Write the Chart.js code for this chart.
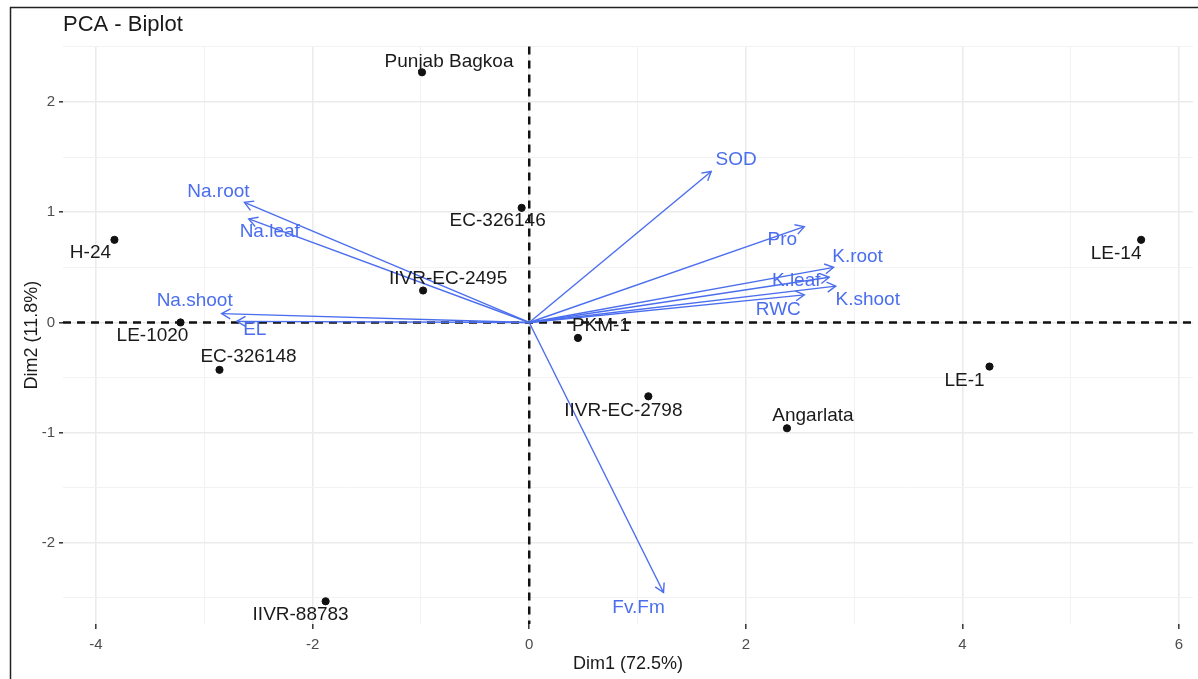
<!DOCTYPE html>
<html>
<head>
<meta charset="utf-8">
<title>PCA - Biplot</title>
<script src="https://cdn.jsdelivr.net/npm/chart.js@4/dist/chart.umd.min.js"></script>
<style>
  html, body { margin: 0; padding: 0; background: #ffffff; }
  #wrap { width: 1198px; height: 679px; position: relative; }
</style>
</head>
<body>
<div id="wrap"><canvas id="biplot" width="1198" height="679"></canvas></div>
<script>
// Individuals (genotypes) and their PCA coordinates
const individuals = ['Punjab Bagkoa', 'EC-326146', 'H-24', 'IIVR-EC-2495', 'LE-1020', 'EC-326148',
                     'PKM-1', 'IIVR-EC-2798', 'Angarlata', 'LE-1', 'LE-14', 'IIVR-88783'];
const indDim1 = [-0.99, -0.07, -3.83, -0.98, -3.22, -2.86, 0.45, 1.10, 2.38, 4.25, 5.65, -1.88];
const indDim2 = [ 2.27,  1.04,  0.75,  0.29,  0.00, -0.43, -0.14, -0.67, -0.96, -0.40, 0.75, -2.53];

// Variables and their loadings (arrow tips)
const variables = ['SOD', 'Pro', 'K.root', 'K.leaf', 'K.shoot', 'RWC',
                   'Na.root', 'Na.leaf', 'Na.shoot', 'EL', 'Fv.Fm'];
const varDim1 = [1.68, 2.54, 2.81, 2.77, 2.83, 2.54, -2.63, -2.59, -2.84, -2.70, 1.24];
const varDim2 = [1.37, 0.87, 0.50, 0.41, 0.33, 0.25,  1.09,  0.94,  0.08,  0.01, -2.45];

// Axis tick labels
const xTickLabels = [-4, -2, 0, 2, 4, 6];
const yTickLabels = [-2, -1, 0, 1, 2];

// Label placement (pixel offsets from the mark, keeps text clear of points/arrows)
const indLabelOffset = [[27, -11], [-24, 13], [-24, 13], [25, -12], [-28, 13], [29, -13],
                        [23, -12], [-25, 14], [26, -13], [-25, 14], [-25, 14], [-25, 13]];
const varLabelOffset = [[25, -12], [-22, 13], [24, -11], [-33, 3], [32, 14], [-26, 15],
                        [-26, -11], [21, 13], [-27, -13], [18, 8], [-25, 15]];

const FONT = '"Liberation Sans", Arial, Helvetica, sans-serif';
const VAR_COLOR = '#4b6eee';
const TEXT_COLOR = '#1a1a1a';

const indPoints = individuals.map((n, i) => ({ x: indDim1[i], y: indDim2[i] }));
const arrowSets = variables.map((n, i) => ({
  type: 'line',
  label: n,
  data: [{ x: 0, y: 0 }, { x: varDim1[i], y: varDim2[i] }],
  borderColor: VAR_COLOR,
  borderWidth: 1.4,
  pointRadius: 0,
  fill: false,
  tension: 0,
  order: 2
}));

const biplotDecor = {
  id: 'biplotDecor',
  beforeDraw(chart) {
    const ctx = chart.ctx;
    ctx.save();
    ctx.fillStyle = '#ffffff';
    ctx.fillRect(0, 0, chart.width, chart.height);
    // figure frame
    ctx.strokeStyle = '#222';
    ctx.lineWidth = 1.5;
    ctx.beginPath();
    ctx.moveTo(10.5, chart.height);
    ctx.lineTo(10.5, 7.5);
    ctx.lineTo(chart.width, 7.5);
    ctx.stroke();
    ctx.restore();
  },
  beforeDatasetsDraw(chart) {
    const { ctx, chartArea: a, scales: { x, y } } = chart;
    ctx.save();
    ctx.strokeStyle = '#111';
    ctx.lineWidth = 2.5;
    ctx.setLineDash([8, 6]);
    const y0 = y.getPixelForValue(0);
    const x0 = x.getPixelForValue(0);
    ctx.beginPath();
    ctx.moveTo(a.left, y0); ctx.lineTo(a.right, y0);
    ctx.moveTo(x0, a.top); ctx.lineTo(x0, a.bottom);
    ctx.stroke();
    ctx.restore();
  },
  afterDatasetsDraw(chart) {
    const ctx = chart.ctx;
    ctx.save();
    // arrow heads
    ctx.strokeStyle = VAR_COLOR;
    ctx.lineWidth = 1.4;
    ctx.setLineDash([]);
    chart.data.datasets.forEach((ds, di) => {
      if (ds.type !== 'line') return;
      const pts = chart.getDatasetMeta(di).data;
      const o = pts[0], t = pts[1];
      const ang = Math.atan2(t.y - o.y, t.x - o.x);
      const len = 10, spread = Math.PI / 6;
      ctx.beginPath();
      ctx.moveTo(t.x - len * Math.cos(ang - spread), t.y - len * Math.sin(ang - spread));
      ctx.lineTo(t.x, t.y);
      ctx.lineTo(t.x - len * Math.cos(ang + spread), t.y - len * Math.sin(ang + spread));
      ctx.stroke();
    });
    // text labels
    ctx.font = '19px ' + FONT;
    ctx.textAlign = 'center';
    ctx.textBaseline = 'middle';
    const { x, y } = chart.scales;
    ctx.fillStyle = VAR_COLOR;
    variables.forEach((n, i) => {
      ctx.fillText(n, x.getPixelForValue(varDim1[i]) + varLabelOffset[i][0],
                      y.getPixelForValue(varDim2[i]) + varLabelOffset[i][1]);
    });
    ctx.fillStyle = TEXT_COLOR;
    individuals.forEach((n, i) => {
      ctx.fillText(n, x.getPixelForValue(indDim1[i]) + indLabelOffset[i][0],
                      y.getPixelForValue(indDim2[i]) + indLabelOffset[i][1]);
    });
    ctx.restore();
  }
};

const MAJOR_GRID = '#ebebeb';
const MINOR_GRID = '#f2f2f2';

new Chart(document.getElementById('biplot'), {
  type: 'scatter',
  data: {
    datasets: [
      {
        label: 'Individuals',
        data: indPoints,
        backgroundColor: '#111',
        borderColor: '#111',
        pointRadius: 3.6,
        pointHoverRadius: 3.6,
        order: 1
      },
      ...arrowSets
    ]
  },
  options: {
    responsive: false,
    animation: false,
    events: [],
    layout: { padding: { left: 0, right: 5, top: 0, bottom: 0 } },
    plugins: {
      legend: { display: false },
      tooltip: { enabled: false },
      title: {
        display: true,
        text: 'PCA - Biplot',
        align: 'start',
        fullSize: false,
        color: TEXT_COLOR,
        font: { family: FONT, size: 22, weight: 'normal' },
        padding: { top: 12, bottom: 8 }
      }
    },
    scales: {
      x: {
        type: 'linear',
        min: -4.305,
        max: 6.129,
        afterFit(scale) { scale.height = 55; },
        border: { display: false },
        grid: {
          color: c => (c.tick && xTickLabels.includes(c.tick.value)) ? MAJOR_GRID : MINOR_GRID,
          lineWidth: c => (c.tick && xTickLabels.includes(c.tick.value)) ? 1.6 : 1,
          tickColor: c => (c.tick && xTickLabels.includes(c.tick.value)) ? '#333' : 'rgba(0,0,0,0)',
          tickLength: 5,
          tickWidth: 1.5
        },
        ticks: {
          stepSize: 1,
          includeBounds: false,
          autoSkip: false,
          maxRotation: 0,
          padding: 7,
          color: '#4d4d4d',
          font: { family: FONT, size: 15 },
          callback: v => xTickLabels.includes(v) ? String(v) : ''
        },
        title: {
          display: true,
          text: 'Dim1 (72.5%)',
          color: TEXT_COLOR,
          font: { family: FONT, size: 18 },
          padding: { top: 0, bottom: 4 }
        }
      },
      y: {
        type: 'linear',
        min: -2.736,
        max: 2.505,
        afterFit(scale) { scale.width = 63; },
        border: { display: false },
        grid: {
          color: c => (c.tick && yTickLabels.includes(c.tick.value)) ? MAJOR_GRID : MINOR_GRID,
          lineWidth: c => (c.tick && yTickLabels.includes(c.tick.value)) ? 1.6 : 1,
          tickColor: c => (c.tick && yTickLabels.includes(c.tick.value)) ? '#333' : 'rgba(0,0,0,0)',
          tickLength: 4,
          tickWidth: 1.5
        },
        ticks: {
          stepSize: 0.5,
          includeBounds: false,
          autoSkip: false,
          padding: 4,
          color: '#4d4d4d',
          font: { family: FONT, size: 15 },
          callback: v => yTickLabels.includes(v) ? String(v) : ''
        },
        title: {
          display: true,
          text: 'Dim2 (11.8%)',
          color: TEXT_COLOR,
          font: { family: FONT, size: 18 },
          padding: { top: 21, bottom: 0 }
        }
      }
    }
  },
  plugins: [biplotDecor]
});
</script>
</body>
</html>
